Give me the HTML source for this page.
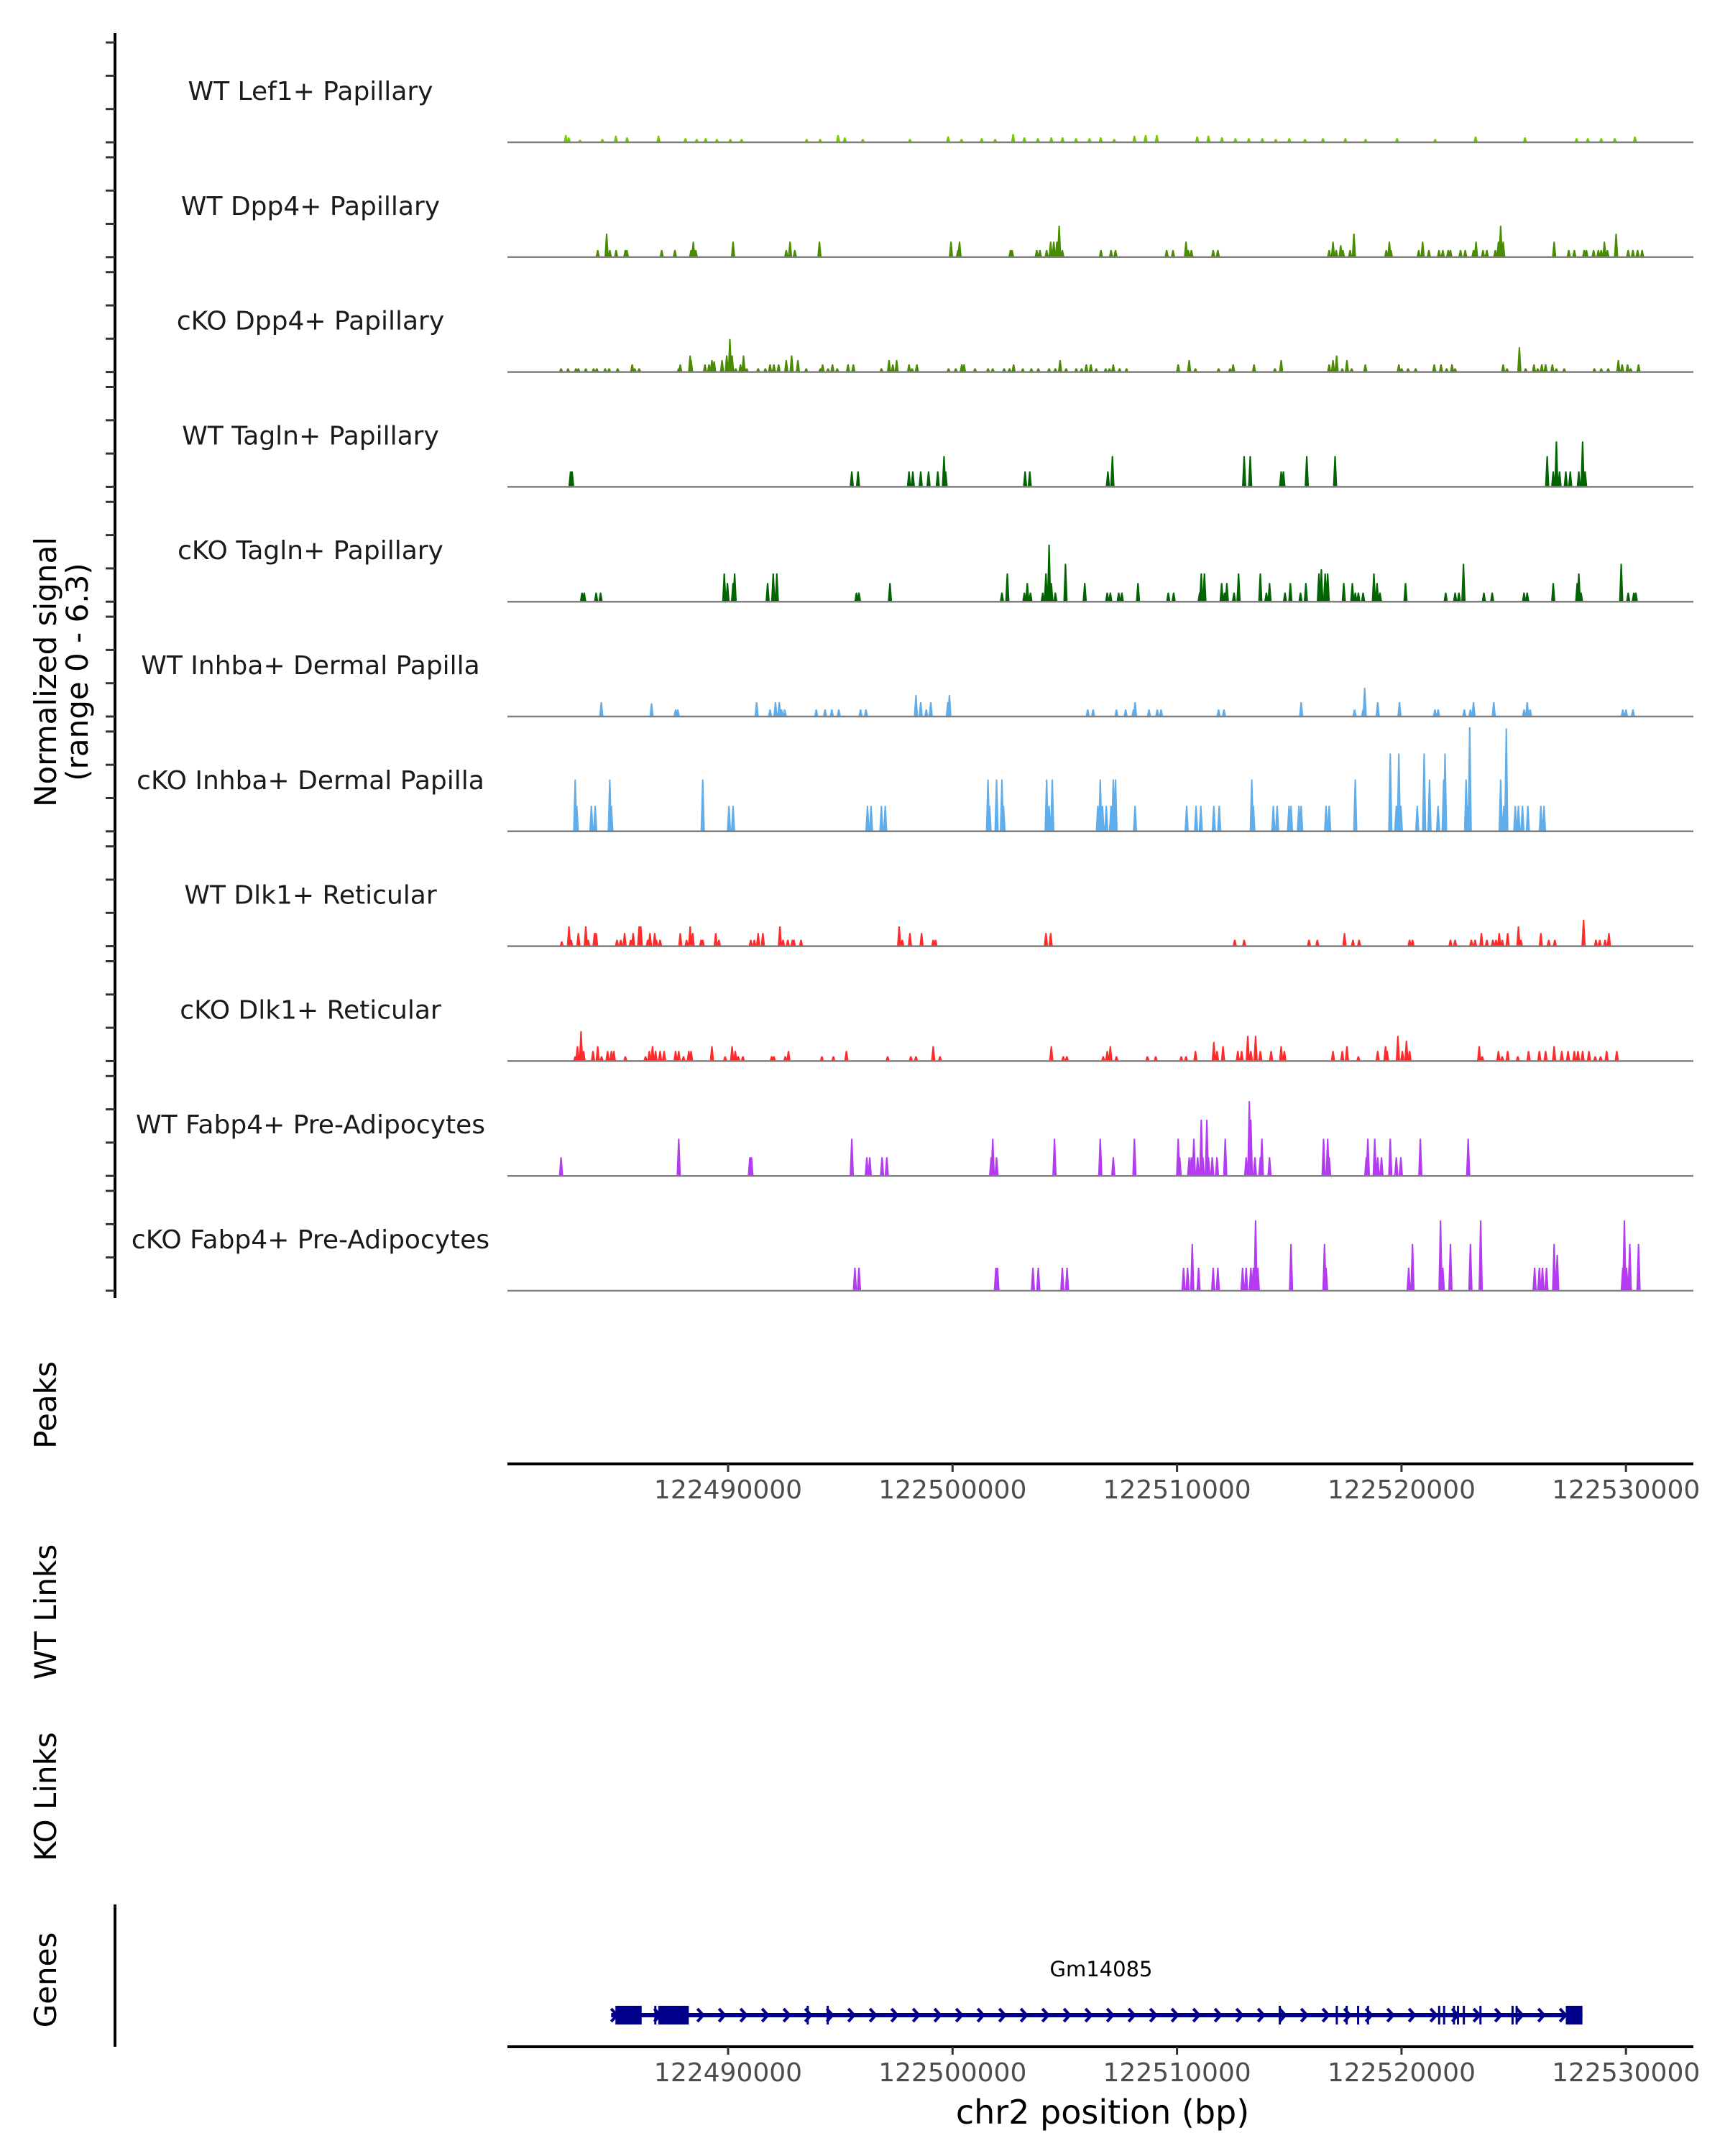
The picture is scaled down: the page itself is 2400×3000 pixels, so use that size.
<!DOCTYPE html>
<html><head><meta charset="utf-8"><style>
html,body{margin:0;padding:0;background:#fff}
svg{display:block}
text{font-family:"DejaVu Sans","Liberation Sans",sans-serif}
</style></head><body>
<svg id="fig" width="2400" height="3000" viewBox="0 0 2400 3000" xmlns="http://www.w3.org/2000/svg"></svg>
<script>
// ---------- data (positions in kb offset from chr2:122,480,000; values = normalized signal) ----------
const trackNames = ["WT Lef1+ Papillary","WT Dpp4+ Papillary","cKO Dpp4+ Papillary","WT Tagln+ Papillary","cKO Tagln+ Papillary","WT Inhba+ Dermal Papilla","cKO Inhba+ Dermal Papilla","WT Dlk1+ Reticular","cKO Dlk1+ Reticular","WT Fabp4+ Pre-Adipocytes","cKO Fabp4+ Pre-Adipocytes"];
const trackColors = ["#76c900","#4a8c00","#4a8c00","#006400","#006400","#5fadeb","#5fadeb","#ff2b2b","#ff2b2b","#b33bf0","#b33bf0"];
const xTicks = [122490000,122500000,122510000,122520000,122530000];
const xTickLabels = ["122490000","122500000","122510000","122520000","122530000"];

const pos0 = [2.77,2.9,3.4,4.4,5.0,5.5,6.9,8.1,8.6,9.0,9.5,10.1,10.6,13.5,14.1,14.9,15.2,16.0,18.1,19.8,20.4,21.3,21.9,22.7,23.2,23.8,24.4,24.9,25.5,26.1,26.6,27.2,28.1,28.6,29.1,30.9,31.4,32.0,32.6,33.2,33.8,34.4,35.0,35.7,36.5,37.5,38.4,39.8,41.5,43.3,45.5,47.8,48.3,48.9,49.5,50.4];
const val0 = [0.45,0.3,0.15,0.2,0.4,0.3,0.4,0.25,0.2,0.25,0.2,0.2,0.2,0.2,0.2,0.45,0.3,0.2,0.2,0.35,0.2,0.25,0.2,0.5,0.3,0.25,0.3,0.3,0.25,0.25,0.3,0.2,0.4,0.45,0.45,0.35,0.4,0.3,0.25,0.25,0.25,0.2,0.25,0.2,0.25,0.25,0.2,0.25,0.2,0.35,0.3,0.25,0.25,0.25,0.25,0.35];

const pos1 = [4.19,4.59,4.73,5.01,5.42,5.49,7.04,7.63,8.35,8.45,8.56,10.22,12.59,12.76,12.97,14.07,19.93,20.24,20.31,22.58,22.65,23.75,23.89,24.19,24.37,24.51,24.65,24.75,24.89,26.61,27.06,27.26,29.54,29.82,30.40,30.50,30.64,31.61,31.82,36.78,36.95,37.09,37.29,37.39,37.71,37.88,39.32,39.46,39.53,40.77,40.94,41.22,41.67,41.84,42.08,42.18,42.63,42.84,43.21,43.32,43.63,43.80,44.18,44.32,44.42,44.53,46.80,47.45,47.70,48.14,48.24,48.56,48.77,48.90,49.04,49.17,49.56,50.10,50.31,50.52,50.72];
const val1 = [0.43,1.42,0.43,0.43,0.43,0.43,0.43,0.43,0.43,0.94,0.43,0.94,0.43,0.94,0.43,0.94,0.94,0.43,0.94,0.43,0.43,0.43,0.43,0.43,0.94,0.94,0.94,1.9,0.43,0.43,0.43,0.43,0.43,0.43,0.94,0.43,0.43,0.43,0.43,0.43,0.94,0.43,0.72,0.43,0.43,1.42,0.43,0.94,0.43,0.43,0.94,0.43,0.43,0.43,0.43,0.43,0.43,0.43,0.43,0.94,0.43,0.43,0.43,0.94,1.9,0.94,0.94,0.43,0.43,0.43,0.43,0.43,0.43,0.43,0.94,0.43,1.42,0.43,0.43,0.43,0.43];

const pos2 = [2.56,2.87,3.22,3.33,3.66,4.01,4.15,4.52,4.70,5.08,5.73,5.84,6.04,7.80,7.87,8.31,8.35,8.97,9.15,9.28,9.38,9.73,9.94,10.08,10.18,10.34,10.55,10.69,10.83,11.34,11.66,11.87,12.04,12.25,12.59,12.83,13.11,13.48,14.11,14.21,14.45,14.65,14.86,15.34,15.58,16.83,17.17,17.34,17.51,18.06,18.20,18.41,19.82,20.14,20.41,20.51,21.00,21.58,21.79,22.30,22.54,22.72,23.13,23.51,23.82,24.30,24.58,24.79,25.06,25.51,25.75,25.96,26.16,26.40,26.82,26.99,27.16,27.44,27.75,30.05,30.54,30.82,31.85,32.36,32.50,33.43,34.36,34.64,36.78,36.95,37.11,37.36,37.57,37.78,38.39,39.88,40.01,40.29,40.63,41.46,41.76,42.01,42.25,42.39,44.53,44.70,45.25,45.53,45.90,46.07,46.25,46.42,46.72,46.90,47.25,48.59,48.90,49.21,49.66,49.83,50.07,50.21,50.56];
const val2 = [0.22,0.22,0.22,0.22,0.22,0.22,0.22,0.22,0.22,0.22,0.46,0.22,0.22,0.22,0.46,1.0,0.72,0.46,0.46,0.72,0.65,0.72,1.0,2.0,1.0,0.22,0.46,1.0,0.22,0.22,0.22,0.46,0.46,0.46,0.72,1.0,0.72,0.22,0.22,0.46,0.22,0.46,0.22,0.46,0.46,0.22,0.72,0.46,0.72,0.46,0.22,0.46,0.22,0.22,0.46,0.46,0.22,0.22,0.22,0.22,0.22,0.46,0.22,0.22,0.22,0.22,0.22,0.72,0.22,0.22,0.22,0.46,0.46,0.22,0.22,0.22,0.46,0.22,0.22,0.46,0.72,0.22,0.22,0.22,0.46,0.46,0.22,0.72,0.46,0.72,1.0,0.22,0.72,0.22,0.46,0.46,0.22,0.22,0.22,0.46,0.46,0.22,0.46,0.22,0.46,0.22,1.5,0.22,0.46,0.22,0.46,0.46,0.46,0.22,0.22,0.22,0.22,0.22,0.72,0.46,0.46,0.22,0.46];

const pos3 = [2.98,3.05,15.51,15.79,18.06,18.23,18.58,18.93,19.34,19.62,19.69,23.23,23.44,26.92,27.12,32.99,33.26,34.64,34.74,35.78,37.04,46.49,46.76,46.90,47.04,47.32,47.52,47.90,48.07,48.18];
const val3 = [0.93,0.93,0.93,0.93,0.93,0.93,0.93,0.93,0.93,1.86,0.93,0.93,0.93,0.93,1.86,1.86,1.86,0.93,0.93,1.86,1.86,1.86,0.93,2.75,0.93,0.93,0.93,0.93,2.75,0.93];

const pos4 = [3.49,3.59,4.12,4.32,9.83,9.97,10.22,10.29,11.76,12.01,12.17,15.72,15.83,17.21,22.20,22.44,23.20,23.33,23.47,24.02,24.16,24.30,24.40,24.58,25.03,25.89,26.89,27.03,27.40,27.54,28.26,29.61,29.85,31.01,31.08,31.22,31.99,32.12,32.22,32.54,32.74,33.71,33.98,34.12,34.81,35.05,35.50,35.74,36.32,36.43,36.60,36.71,37.43,37.81,37.94,38.08,38.29,38.77,38.91,39.04,40.18,41.97,42.39,42.56,42.76,43.67,44.04,45.46,45.60,46.76,47.83,47.90,48.00,49.79,50.10,50.35,50.44];
const val4 = [0.55,0.55,0.55,0.55,1.71,1.13,1.13,1.71,1.13,1.71,1.71,0.55,0.55,1.13,0.55,1.71,0.55,1.13,0.55,0.55,1.71,3.45,1.13,0.55,2.29,1.13,0.55,0.55,0.55,0.55,1.13,0.55,0.55,0.55,1.71,1.71,1.13,0.55,1.13,0.55,1.71,1.71,0.55,1.13,0.55,1.13,0.55,1.13,1.71,1.96,1.71,1.71,1.13,1.13,0.55,0.55,0.55,1.71,1.13,0.55,1.13,0.55,0.55,0.55,2.29,0.55,0.55,0.55,0.55,1.13,1.13,1.71,0.55,2.29,0.55,0.55,0.55];

const pos5 = [4.35,6.59,7.66,7.76,11.27,11.87,12.11,12.28,12.38,12.52,13.93,14.32,14.62,14.93,15.90,16.14,18.37,18.58,18.83,19.03,19.79,19.86,26.02,26.26,27.30,27.71,28.06,28.13,28.75,29.12,29.29,31.85,32.09,35.53,37.91,38.29,38.36,38.94,39.91,41.49,41.63,42.80,43.07,43.21,44.11,45.46,45.60,45.73,49.86,50.00,50.31];
const val5 = [0.87,0.8,0.43,0.43,0.87,0.43,0.87,0.87,0.43,0.43,0.43,0.43,0.43,0.43,0.43,0.43,1.3,0.87,0.43,0.87,0.87,1.3,0.43,0.43,0.43,0.43,0.43,0.87,0.43,0.43,0.43,0.43,0.43,0.87,0.43,0.43,1.74,0.87,0.87,0.43,0.43,0.43,0.43,0.87,0.87,0.43,0.87,0.43,0.43,0.43,0.43];

const pos6 = [3.19,3.26,3.91,4.08,4.73,4.80,8.87,10.04,10.22,16.21,16.37,16.83,17.00,21.58,21.65,21.96,22.20,22.27,24.19,24.30,24.44,26.47,26.58,26.68,26.85,27.06,27.16,27.26,28.13,30.43,30.85,31.06,31.64,31.88,33.33,33.40,34.29,34.46,34.99,35.08,35.43,35.53,36.64,36.78,37.94,39.50,39.77,39.88,39.97,40.70,41.01,41.25,41.63,41.88,41.94,42.88,42.97,43.04,44.42,44.56,44.67,45.07,45.21,45.39,45.63,46.21,46.35];
const val6 = [3.14,1.55,1.55,1.55,3.14,1.55,3.14,1.55,1.55,1.55,1.55,1.55,1.55,3.14,1.55,3.14,3.14,1.55,3.14,1.55,3.14,1.55,3.14,1.55,1.55,1.55,3.14,3.14,1.55,1.55,1.55,1.55,1.55,1.55,3.14,1.55,1.55,1.55,1.55,1.55,1.55,1.55,1.55,1.55,3.14,4.71,1.55,4.71,1.55,1.55,4.71,3.14,1.55,3.14,4.71,3.14,1.55,6.3,3.14,1.55,6.23,1.55,1.55,1.55,1.55,1.55,1.55];

const pos7 = [2.59,2.91,3.01,3.33,3.66,3.77,4.05,4.12,5.05,5.22,5.39,5.66,5.77,6.04,6.11,6.42,6.52,6.73,6.80,6.97,7.87,8.15,8.31,8.42,8.80,8.87,9.45,9.59,11.01,11.17,11.34,11.55,12.31,12.45,12.66,12.87,12.93,13.25,17.62,17.76,18.10,18.62,19.14,19.24,24.16,24.37,32.57,32.99,35.88,36.25,37.46,37.84,38.11,40.36,40.49,42.18,42.39,43.11,43.28,43.56,43.80,44.07,44.21,44.35,44.49,44.73,45.21,45.32,46.21,46.56,46.83,48.11,48.66,48.83,49.07,49.24];
const val7 = [0.29,1.2,0.39,0.8,1.2,0.39,0.8,0.8,0.39,0.39,0.8,0.39,0.8,1.2,1.2,0.39,0.8,0.8,0.39,0.39,0.8,0.39,1.2,0.8,0.39,0.39,0.8,0.39,0.39,0.39,0.8,0.8,1.2,0.39,0.39,0.39,0.39,0.39,1.2,0.39,0.8,0.8,0.39,0.39,0.8,0.8,0.39,0.39,0.39,0.39,0.8,0.39,0.39,0.39,0.39,0.39,0.39,0.39,0.39,0.8,0.39,0.39,0.39,0.8,0.39,0.8,1.2,0.39,0.8,0.39,0.39,1.6,0.39,0.39,0.39,0.8];

const pos8 = [3.19,3.29,3.45,3.56,3.98,4.19,4.36,4.63,4.80,4.91,5.42,6.32,6.49,6.63,6.77,6.97,7.15,7.66,7.80,8.01,8.25,8.35,9.28,9.87,10.18,10.32,10.45,10.66,11.94,12.04,12.55,12.69,14.18,14.69,15.27,17.11,18.14,18.37,19.14,19.44,24.40,24.93,25.09,26.71,26.89,27.03,27.30,28.68,29.05,30.19,30.40,30.82,31.64,31.78,32.05,32.71,32.88,33.15,33.29,33.50,33.71,34.19,34.64,34.78,36.95,37.36,37.57,38.08,38.94,39.29,39.36,39.84,40.04,40.22,40.36,43.46,43.60,44.32,44.49,44.73,45.18,45.66,46.14,46.42,46.80,47.14,47.42,47.70,47.86,48.07,48.35,48.63,48.87,49.14,49.59];
const val8 = [0.29,0.9,1.81,0.61,0.61,0.9,0.29,0.61,0.61,0.61,0.29,0.29,0.61,0.9,0.61,0.61,0.61,0.61,0.61,0.29,0.61,0.61,0.9,0.29,0.9,0.61,0.29,0.29,0.29,0.29,0.29,0.61,0.29,0.29,0.61,0.29,0.29,0.29,0.9,0.29,0.9,0.29,0.29,0.29,0.61,0.9,0.29,0.29,0.29,0.29,0.29,0.61,1.16,0.61,0.9,0.61,0.61,1.52,0.61,1.52,0.61,0.61,0.9,0.61,0.61,0.61,0.9,0.29,0.61,0.9,0.61,1.52,0.61,1.23,0.61,0.9,0.29,0.61,0.29,0.61,0.29,0.61,0.61,0.61,0.9,0.61,0.61,0.61,0.61,0.61,0.61,0.29,0.29,0.61,0.61];

const pos9 = [2.56,7.80,10.97,11.04,15.51,16.18,16.31,16.86,17.07,21.72,21.79,21.96,24.54,26.58,27.16,28.10,30.05,30.12,30.54,30.64,30.75,30.92,31.08,31.15,31.33,31.40,31.57,31.78,32.15,33.08,33.22,33.29,33.47,33.71,33.78,34.12,36.53,36.71,36.78,38.43,38.50,38.81,38.94,39.11,39.50,39.77,39.97,40.84,42.97];
const val9 = [1.13,2.25,1.13,1.13,2.25,1.13,1.13,1.13,1.13,1.13,2.25,1.13,2.25,2.25,1.13,2.25,2.25,1.13,1.13,1.13,2.25,1.13,3.4,1.13,3.4,1.13,1.13,1.13,2.25,1.13,4.52,3.4,1.13,1.13,2.25,1.13,2.25,2.25,1.13,1.13,2.25,2.25,1.13,1.13,2.25,1.13,1.13,2.25,2.25];

const pos10 = [15.65,15.83,21.93,22.00,23.58,23.82,24.89,25.10,30.29,30.47,30.68,30.96,31.61,31.82,32.92,33.08,33.29,33.40,33.50,33.60,35.08,36.57,36.64,40.32,40.49,41.74,41.84,42.18,43.07,43.53,45.93,46.14,46.28,46.46,46.80,46.94,49.86,49.93,50.03,50.17,50.56];
const val10 = [1.39,1.39,1.39,1.39,1.39,1.39,1.39,1.39,1.39,1.39,2.83,1.39,1.39,1.39,1.39,1.39,1.39,1.39,4.25,1.39,2.83,2.83,1.39,1.39,2.83,4.25,1.39,2.83,2.83,4.25,1.39,1.39,1.39,1.39,2.83,2.17,1.39,4.25,1.39,2.83,2.83];

const positions = [pos0,pos1,pos2,pos3,pos4,pos5,pos6,pos7,pos8,pos9,pos10];
const values = [val0,val1,val2,val3,val4,val5,val6,val7,val8,val9,val10];

// gene model (kb offsets)
const geneStart = 4.79, geneEnd = 48.06;
const exonStarts = [4.98,6.89,47.32,6.71,13.5,14.39,34.53,37.07,37.51,38.02,38.46,41.63,41.85,42.29,42.47,42.73,43.47,44.9,45.08];
const exonEnds   = [6.15,8.25,48.06,6.76,13.55,14.44,34.58,37.12,37.56,38.07,38.51,41.68,41.90,42.34,42.52,42.78,43.52,44.95,45.13];

// ---------- drawing ----------
const NS = "http://www.w3.org/2000/svg";
const svg = document.getElementById('fig');
const X0 = 1013, PXKB = 31.23;
const xKb = kb => X0 + (kb - 10) * PXKB;
const xBp = bp => X0 + (bp - 122490000) / 1000 * PXKB;
const PLOT_L = 706, PLOT_R = 2356;
const baseY = i => 198 + 159.8 * i;
const PXV = 23;
const yVal = (i, v) => baseY(i) - v * PXV;

function mk(tag, attrs, parent) {
  const e = document.createElementNS(NS, tag);
  for (const k in attrs) e.setAttribute(k, attrs[k]);
  (parent || svg).appendChild(e);
  return e;
}

const axis = mk('g', {});


mk('line', {x1:160, y1:46, x2:160, y2:1806, stroke:'#000', 'stroke-width':4}, axis);
for (let i = 0; i < 11; i++) {
  for (let k = 0; k < 4; k++) {
    const y = baseY(i) - k * 46.3;
    mk('line', {x1:147, y1:y, x2:160, y2:y, stroke:'#333', 'stroke-width':3}, axis);
  }
}

const yt = mk('text', {transform:'translate(0,935) rotate(-90)', 'text-anchor':'middle', 'font-size':42, fill:'#000'});


const t1 = mk('tspan', {x:0, y:78}, yt); t1.textContent = 'Normalized signal';
const t2 = mk('tspan', {x:0, y:122}, yt); t2.textContent = '(range 0 - 6.3)';

for (let i = 0; i < 11; i++) {
  const g = mk('g', {});
  
  
  const lab = mk('text', {x:432, y:baseY(i) - 59, 'text-anchor':'middle', 'font-size':36, fill:'#1a1a1a'}, g);
  
  
  lab.textContent = trackNames[i];
  const b = baseY(i);
  let d = '';
  const P = positions[i], V = values[i];
  for (let j = 0; j < P.length; j++) {
    const x = xKb(P[j]), y = yVal(i, V[j]);
    d += `M${(x-3).toFixed(1)},${b}L${(x-1).toFixed(1)},${y.toFixed(1)}L${(x+1).toFixed(1)},${y.toFixed(1)}L${(x+3).toFixed(1)},${b}Z`;
  }
  const area = mk('path', {d:d, fill:trackColors[i]}, g);
  
  
  const bl = mk('line', {x1:PLOT_L, y1:b, x2:PLOT_R, y2:b, stroke:'#7f7f7f', 'stroke-width':2.5}, g);
  
  
}

const sides = [['Peaks',1955,'peaks-label'],['WT Links',2243,'wt-links-label'],['KO Links',2500,'ko-links-label'],['Genes',2755,'genes-label']];
for (const s of sides) {
  const t = mk('text', {transform:`translate(78,${s[1]}) rotate(-90)`, 'text-anchor':'middle', 'font-size':42, fill:'#000'});
  
  
  t.textContent = s[0];
}

function xAxis(y, name) {
  const g = mk('g', {});
  
  
  mk('line', {x1:PLOT_L, y1:y, x2:PLOT_R, y2:y, stroke:'#000', 'stroke-width':4}, g);
  for (let k = 0; k < xTicks.length; k++) {
    const x = xBp(xTicks[k]);
    mk('line', {x1:x, y1:y, x2:x, y2:y + 11, stroke:'#333', 'stroke-width':3}, g);
    const t = mk('text', {x:x, y:y + 48, 'text-anchor':'middle', 'font-size':36, fill:'#4d4d4d'}, g);
    
    
    t.textContent = xTickLabels[k];
  }
}
xAxis(2037, 'peaks-x-axis');
xAxis(2848, 'genes-x-axis');

const xt = mk('text', {x:1534, y:2955, 'text-anchor':'middle', 'font-size':46, fill:'#000'});


xt.textContent = 'chr2 position (bp)';

mk('line', {x1:160, y1:2650, x2:160, y2:2848, stroke:'#000', 'stroke-width':4});
const gg = mk('g', {});


const gy = 2804;
const gl = mk('text', {x:1532, y:2750, 'text-anchor':'middle', 'font-size':29, fill:'#000'}, gg);


gl.textContent = 'Gm14085';
mk('line', {x1:xKb(geneStart), y1:gy, x2:xKb(geneEnd), y2:gy, stroke:'#00008b', 'stroke-width':6}, gg);
for (let k = xKb(geneStart) + 4; k < xKb(geneEnd) - 10; k += 30) {
  mk('polyline', {points:`${k-4},${gy-9} ${k+4},${gy} ${k-4},${gy+9}`, fill:'none', stroke:'#00008b', 'stroke-width':4}, gg);
}
for (let k = 0; k < exonStarts.length; k++) {
  const x1 = xKb(exonStarts[k]), x2 = xKb(exonEnds[k]);
  mk('rect', {x:x1, y:gy - 13, width:Math.max(3, x2 - x1), height:26, fill:'#00008b'}, gg);
}
</script>
</body></html>
